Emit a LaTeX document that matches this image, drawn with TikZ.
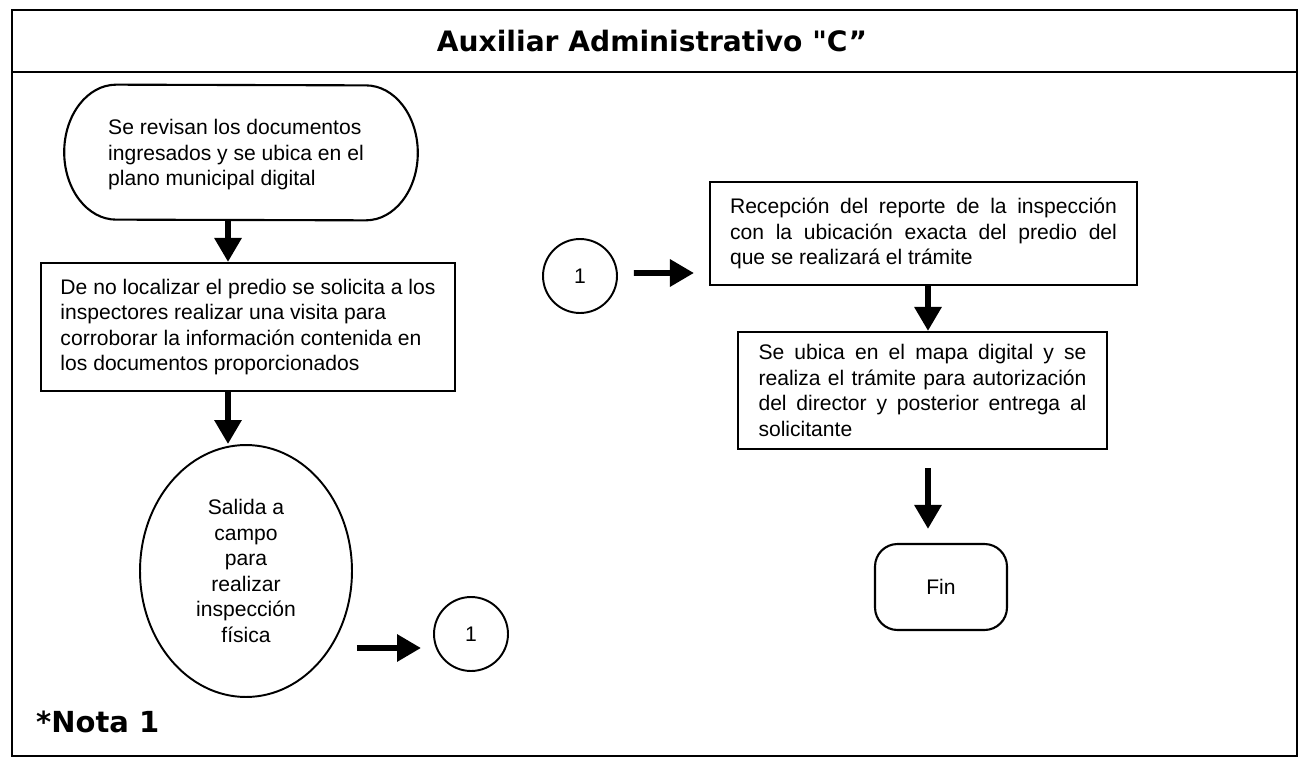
\documentclass[tikz,border=0pt]{standalone}
\usepackage{fontspec}
\setmainfont{Liberation Sans}
\newfontfamily\headfont{DejaVu Sans}
\usepackage{tikz}
\usetikzlibrary{shapes,arrows.meta,positioning,calc}
\newcommand{\txtfont}{\fontsize{12}{14.5}\selectfont}
\tikzstyle{arrow} = [line width=3.4pt,-{Triangle[width=0.52cm,length=0.48cm]}]
\tikzstyle{proceso} = [draw, rectangle, line width=1.2pt, inner sep=0, font=\txtfont]
\tikzstyle{terminal} = [rectangle, inner sep=0, font=\txtfont]
\tikzstyle{conector} = [draw, circle, line width=1.1pt, minimum size=1.48cm, inner sep=0, font=\txtfont]

\begin{document}
\begin{tikzpicture}[x=0.02cm, y=-0.02cm]

\useasboundingbox (0,0) rectangle (1303,764);

% Frame and header
\draw[line width=1.2pt] (12,10) rectangle (1297,756);
\draw[line width=1.2pt] (12,72) -- (1297,72);
\node[font=\headfont\bfseries\fontsize{16}{19}\selectfont] (titulo) at (652,41) {Auxiliar Administrativo "C”};
\node[anchor=west, font=\headfont\bfseries\fontsize{16.5}{19}\selectfont] (nota) at (30,722) {*Nota 1};

% Columns for the vertical arrows
\coordinate (lcol) at (228,0);
\coordinate (rcol) at (928,0);

% Left column
\node[terminal, align=left, minimum width=7.06cm, minimum height=2.7cm] (revision) at (236,155)
  {Se revisan los documentos\\ingresados y se ubica en el\\plano municipal digital};
\draw[line width=1.2pt] ($(revision.north west)+(57,-2.5)$)
  arc[start angle=90, end angle=270, x radius=1.04cm, y radius=1.35cm]
  -- ($(revision.south east)+(-47,-2.5)$)
  arc[start angle=-90, end angle=90, x radius=1.04cm, y radius=1.35cm] -- cycle;
\node[proceso, align=left, minimum width=8.28cm, minimum height=2.56cm] (solicitud) at (248,327)
  {De no localizar el predio se solicita a los\\inspectores realizar una visita para\\corroborar la información contenida en\\los documentos proporcionados};
\node[draw, ellipse, line width=1.1pt, inner sep=0, minimum width=4.24cm, minimum height=5.04cm, align=center, font=\txtfont] (salida) at (246,571)
  {Salida a\\campo\\para\\realizar\\inspección\\física};
\node[conector] (conA) at (471,634) {1};

% Right column
\node[conector] (conB) at (580,276) {1};
\node[proceso, text width=7.74cm, inner xsep=0.4cm, minimum height=2.06cm, align=justify] (recepcion) at (923.5,233.5)
  {Recepción del reporte de la inspección\linebreak con la ubicación exacta del predio del\linebreak que se realizará el trámite};
\node[proceso, text width=6.56cm, inner xsep=0.41cm, minimum height=2.34cm, align=justify] (ubica) at (922.5,390.5)
  {Se ubica en el mapa digital y se\linebreak realiza el trámite para autorización\linebreak del director y posterior entrega al\linebreak solicitante};
\node[draw, rectangle, rounded corners=0.45cm, line width=1.2pt, minimum width=2.64cm, minimum height=1.72cm, font=\txtfont] (fin) at (941,587) {Fin};

% Arrows
\draw[arrow] ($(revision.south -| lcol)+(0,-2.5)$) -- (solicitud.north -| lcol);
\draw[arrow] (solicitud.south -| lcol) -- (salida.north -| lcol);
\draw[arrow] ($(salida.east)+(4,77)$) -- ($(conA.west)+(-12,14)$);
\draw[arrow] ($(conB.east)+(16,-3)$) -- ($(recepcion.west)+(-15,39.5)$);
\draw[arrow] (recepcion.south -| rcol) -- (ubica.north -| rcol);
\draw[arrow] ($(ubica.south -| rcol)+(0,18)$) -- ($(fin.north -| rcol)+(0,-14)$);

\end{tikzpicture}
\end{document}
